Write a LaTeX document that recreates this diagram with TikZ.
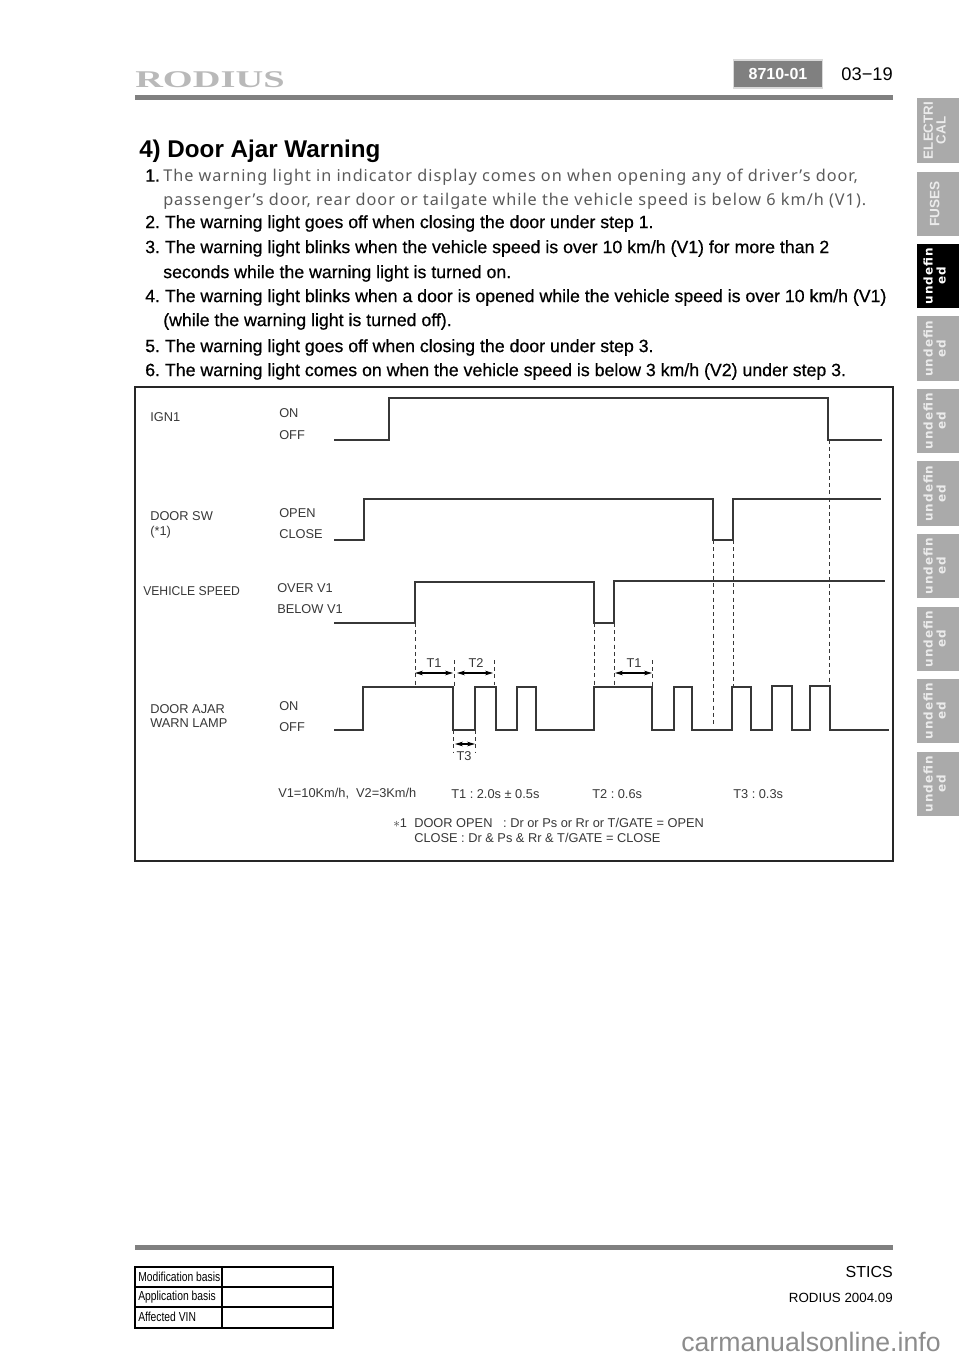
\documentclass[tikz,border=0pt]{standalone}
\usepackage{fontspec}
\usetikzlibrary{arrows.meta}
\setmainfont{Liberation Sans}
\newfontfamily\bodyfont[FakeBold=0.6]{Liberation Sans}
\newfontfamily\firstfont[LetterSpace=6]{Noto Sans}
\newfontfamily\logofont[FakeStretch=1.6]{Liberation Serif}
\newfontfamily\tablefont[FakeStretch=0.79]{Liberation Sans}
\newfontfamily\tabfont[LetterSpace=8]{DejaVu Sans}
\newfontfamily\narrowfont[FakeStretch=0.95]{Liberation Sans}
\definecolor{rulegray}{RGB}{128,128,128}
\definecolor{logogray}{RGB}{185,185,185}
\definecolor{tabgray}{RGB}{170,170,170}
\definecolor{tabtext}{RGB}{235,235,235}
\definecolor{inkgray}{RGB}{55,55,55}
\definecolor{firstgray}{RGB}{90,90,90}
\tikzset{
    bodyline/.style={anchor=west, inner sep=0pt, font=\bodyfont\fontsize{13.3}{15}\selectfont},
    firstline/.style={anchor=west, inner sep=0pt, text=firstgray, font=\firstfont\fontsize{12.2}{15}\selectfont},
    lbl/.style={anchor=west, inner sep=0pt, text=inkgray, font=\fontsize{9.6}{11}\selectfont},
    wave/.style={draw=inkgray, line width=1.5pt, line join=miter},
    guide/.style={draw=inkgray, line width=0.75pt, dash pattern=on 3pt off 2.4pt},
    span/.style={draw=black, line width=0.8pt, {Stealth[length=6pt,width=3.5pt]}-{Stealth[length=6pt,width=3.5pt]}},
    tabbox/.style={draw=none, fill=tabgray, minimum width=32pt, minimum height=48.5pt, inner sep=0pt},
    tablbl/.style={rotate=90, inner sep=0pt, align=center, text=tabtext, font=\tabfont\bfseries\fontsize{9}{9.7}\selectfont},
    basis/.style={anchor=west, inner sep=0pt, font=\tablefont\fontsize{9.8}{11}\selectfont},
}
\begin{document}
\frenchspacing
\begin{tikzpicture}[x=0.75pt, y=-0.75pt]
    \useasboundingbox (0,0) rectangle (960,1358);

    % Header
    \node[anchor=west, inner sep=0pt, text=logogray, font=\logofont\bfseries\fontsize{18}{20}\selectfont] (logo) at (135,80) {RODIUS};
    \node[fill=rulegray, draw=black!15, line width=1pt, minimum width=66.5pt, minimum height=21pt, inner sep=0pt, text=white, font=\bfseries\fontsize{12}{14}\selectfont] (code) at (778,74) {8710-01};
    \node[anchor=east, inner sep=0pt, font=\fontsize{13.7}{16}\selectfont] (page) at (893,74) {03−19};
    \fill[rulegray] (135,95) rectangle (893,100);

    % Title
    \node[anchor=west, inner sep=0pt, font=\bfseries\fontsize{18.15}{20}\selectfont] (title) at (139,151) {4) Door Ajar Warning};

    % Steps
    \node[bodyline] (n1) at (145,175.5) {1.};
    \node[firstline] (s1a) at (163,177.5) {The warning light in indicator display comes on when opening any of driver’s door,};
    \node[firstline] (s1b) at (163,201.5) {passenger’s door, rear door or tailgate while the vehicle speed is below 6 km/h (V1).};
    \node[bodyline] (s2) at (145,223.5) {2. The warning light goes off when closing the door under step 1.};
    \node[bodyline] (s3a) at (145,248.5) {3. The warning light blinks when the vehicle speed is over 10 km/h (V1) for more than 2};
    \node[bodyline] (s3b) at (163,273.5) {seconds while the warning light is turned on.};
    \node[bodyline] (s4a) at (145,297.5) {4. The warning light blinks when a door is opened while the vehicle speed is over 10 km/h (V1)};
    \node[bodyline] (s4b) at (163,321.5) {(while the warning light is turned off).};
    \node[bodyline] (s5) at (145,347.5) {5. The warning light goes off when closing the door under step 3.};
    \node[bodyline] (s6) at (145,371.5) {6. The warning light comes on when the vehicle speed is below 3 km/h (V2) under step 3.};

    % Chart frame
    \draw[draw=black!85, line width=1.5pt] (135,387) rectangle (893,861);

    % Signal names
    \node[lbl] (ign) at (150,417) {IGN1};
    \node[lbl] (ignon) at (279,413) {ON};
    \node[lbl] (ignoff) at (279,435) {OFF};
    \node[lbl] (door) at (150,516) {DOOR SW};
    \node[lbl] (doorref) at (150,532) {(*1)};
    \node[lbl] (dooropen) at (279,513) {OPEN};
    \node[lbl] (doorclose) at (279,534) {CLOSE};
    \node[lbl, font=\narrowfont\fontsize{9.6}{11}\selectfont] (speed) at (143,591) {VEHICLE SPEED};
    \node[lbl] (speedover) at (277,588) {OVER V1};
    \node[lbl] (speedbelow) at (277,609) {BELOW V1};
    \node[lbl] (lamp) at (150,709) {DOOR AJAR};
    \node[lbl] (lampb) at (150,723) {WARN LAMP};
    \node[lbl] (lampon) at (279,706) {ON};
    \node[lbl] (lampoff) at (279,727) {OFF};

    % Guides
    \draw[guide] (829,440) -- (829,686);
    \draw[guide] (713,540) -- (713,725);
    \draw[guide] (733,540) -- (733,687);
    \draw[guide] (415,623) -- (415,687);
    \draw[guide] (594,623) -- (594,687);
    \draw[guide] (614,623) -- (614,687);
    \draw[guide] (454,660) -- (454,687);
    \draw[guide] (494,660) -- (494,685);
    \draw[guide] (652,660) -- (652,687);
    \draw[guide] (453,730) -- (453,753);
    \draw[guide] (475,730) -- (475,753);

    % Waveforms
    \draw[wave] (334,440) -| (389,398) -| (828,440) -- (882,440);
    \draw[wave] (334,540) -| (364,499) -| (713,540) -| (733,499) -- (881,499);
    \draw[wave] (334,623) -| (415,582) -| (594,623) -| (614,581) -- (885,581);
    \draw[wave] (334,730) -| (363,687) -| (453,730) -| (475,687) -| (496,730) -| (517,687) -| (536,730)
        -| (594,687) -| (652,730) -| (674,687) -| (692,730) -| (732,687) -| (751,730) -| (772,686)
        -| (792,730) -| (810,686) -| (830,730) -- (889,730);

    % Time spans
    \coordinate (ta) at (415,673);
    \coordinate (tb) at (453,673);
    \coordinate (tc) at (457,673);
    \coordinate (td) at (493,673);
    \coordinate (te) at (615,673);
    \coordinate (tf) at (652,673);
    \coordinate (tg) at (455,744);
    \coordinate (th) at (475,744);
    \draw[span] (ta) -- (tb);
    \draw[span] (tc) -- (td);
    \draw[span] (te) -- (tf);
    \draw[span] (tg) -- (th);
    \node[lbl, anchor=center] (t1a) at (434,663) {T1};
    \node[lbl, anchor=center] (t2a) at (476,663) {T2};
    \node[lbl, anchor=center] (t1b) at (634,663) {T1};
    \node[lbl, anchor=center] (t3a) at (464,756) {T3};

    % Notes
    \node[lbl] (vnote) at (278,794) {V1=10Km/h,\ \ V2=3Km/h};
    \node[lbl] (t1note) at (451,794) {T1 : 2.0s ± 0.5s};
    \node[lbl] (t2note) at (592,794) {T2 : 0.6s};
    \node[lbl] (t3note) at (733,794) {T3 : 0.3s};
    \node[lbl] (starnote) at (393,823) {$*$1};
    \node[lbl] (opennote) at (414,823) {DOOR OPEN\ \ \ : Dr or Ps or Rr or T/GATE = OPEN};
    \node[lbl] (closenote) at (414,838) {CLOSE : Dr \& Ps \& Rr \& T/GATE = CLOSE};

    % Side tabs
    \node[tabbox] (tabel) at (938,130.5) {};
    \node[tablbl, font=\bfseries\fontsize{10}{9.7}\selectfont] (tabeltxt) at ([xshift=-2.5pt]tabel) {ELECTRI\\CAL};
    \node[tabbox] (tabfu) at (938,204) {};
    \node[tablbl, font=\bfseries\fontsize{10.2}{12}\selectfont] (tabfutxt) at ([xshift=-2.5pt]tabfu) {FUSES};
    \node[tabbox, fill=black] (tabund) at (938,276) {};
    \node[tablbl, text=white] (tabundtxt) at ([xshift=-2.5pt]tabund) {undefin\\ed};
    \foreach \i/\ypos in {1/348.5, 2/421, 3/493.5, 4/566, 5/639, 6/711, 7/784} {
        \node[tabbox] (tab\i) at (938,\ypos) {};
        \node[tablbl] (tabtxt\i) at ([xshift=-2.5pt]tab\i) {undefin\\ed};
    }

    % Footer
    \fill[rulegray] (135,1245) rectangle (893,1250);
    \draw[line width=1pt] (135,1267) rectangle (333,1328);
    \draw[line width=1pt] (135,1287) -- (333,1287);
    \draw[line width=1pt] (135,1307) -- (333,1307);
    \draw[line width=1pt] (222,1267) -- (222,1328);
    \node[basis] (modbasis) at (138,1277) {Modification basis};
    \node[basis] (appbasis) at (138,1297) {Application basis};
    \node[basis] (vin) at (138,1317) {Affected VIN};
    \node[anchor=east, inner sep=0pt, font=\fontsize{12}{14}\selectfont] (sect) at (893,1272) {STICS};
    \node[anchor=east, inner sep=0pt, font=\fontsize{10}{12}\selectfont] (model) at (893,1298) {RODIUS 2004.09};
    \node[anchor=west, inner sep=0pt, text=black!45, font=\fontsize{20}{22}\selectfont] (mark) at (681,1342) {carmanualsonline.info};
\end{tikzpicture}
\end{document}
